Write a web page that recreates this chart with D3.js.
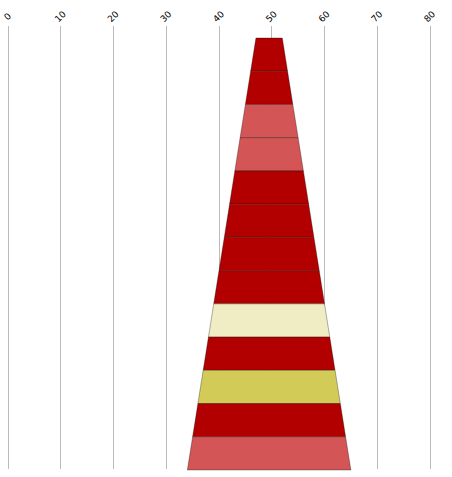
<!DOCTYPE html>
<html>
<head>
<meta charset="utf-8">
<script src="https://cdn.jsdelivr.net/npm/d3@7"></script>
<style>
  html, body { margin: 0; padding: 0; background: #fff; }
  svg { display: block; font-family: "DejaVu Sans", sans-serif; }
</style>
</head>
<body>
<svg id="chart" width="452" height="477"></svg>
<script>
// ---- data ----
const xTicks = [0, 10, 20, 30, 40, 50, 60, 70, 80];
const stages = ["S1","S2","S3","S4","S5","S6","S7","S8","S9","S10","S11","S12","S13"];
// left / right edge of the shape at each stage boundary (top of S1 ... bottom of S13)
const leftEdge  = [47, 46, 45, 44, 43, 42, 41, 40, 39, 38, 37, 36, 35, 34];
const rightEdge = [52, 53, 54, 55, 56, 57, 58, 59, 60, 61, 62, 63, 64, 65];
const stageGroup = ["a","a","b","b","a","a","a","a","c","a","d","a","b"];
const groupColors = { a: "#b20000", b: "#d35555", c: "#f0ecc4", d: "#d2cb58" };

// ---- layout ----
const svg = d3.select("#chart");
const x = d3.scaleLinear().domain([0, 80]).range([8, 430]);
const y = d3.scaleBand().domain(stages).range([38, 470]).paddingInner(0).paddingOuter(0);
const gridTop = 26, gridBottom = 469;

// gridlines
svg.append("g").selectAll("line").data(xTicks).join("line")
  .attr("x1", d => x(d)).attr("x2", d => x(d))
  .attr("y1", gridTop).attr("y2", gridBottom)
  .attr("stroke", "#bbbbbb").attr("stroke-width", 1)
  .attr("shape-rendering", "crispEdges");

// tick labels (rotated)
svg.append("g").selectAll("text").data(xTicks).join("text")
  .attr("transform", d => `translate(${x(d)},${gridTop - 9}) rotate(-45)`)
  .attr("text-anchor", "middle")
  .attr("dominant-baseline", "middle")
  .attr("font-size", 9)
  .attr("fill", "#000")
  .text(d => d);

// stage bands
svg.append("g").selectAll("path").data(stages).join("path")
  .attr("d", (s, i) => {
    const y0 = y(s), y1 = y(s) + y.bandwidth();
    return `M${x(leftEdge[i])},${y0}L${x(rightEdge[i])},${y0}L${x(rightEdge[i+1])},${y1}L${x(leftEdge[i+1])},${y1}Z`;
  })
  .attr("fill", (s, i) => groupColors[stageGroup[i]])
  .attr("stroke", "#000")
  .attr("stroke-opacity", 0.3)
  .attr("stroke-width", 1);
</script>
</body>
</html>
